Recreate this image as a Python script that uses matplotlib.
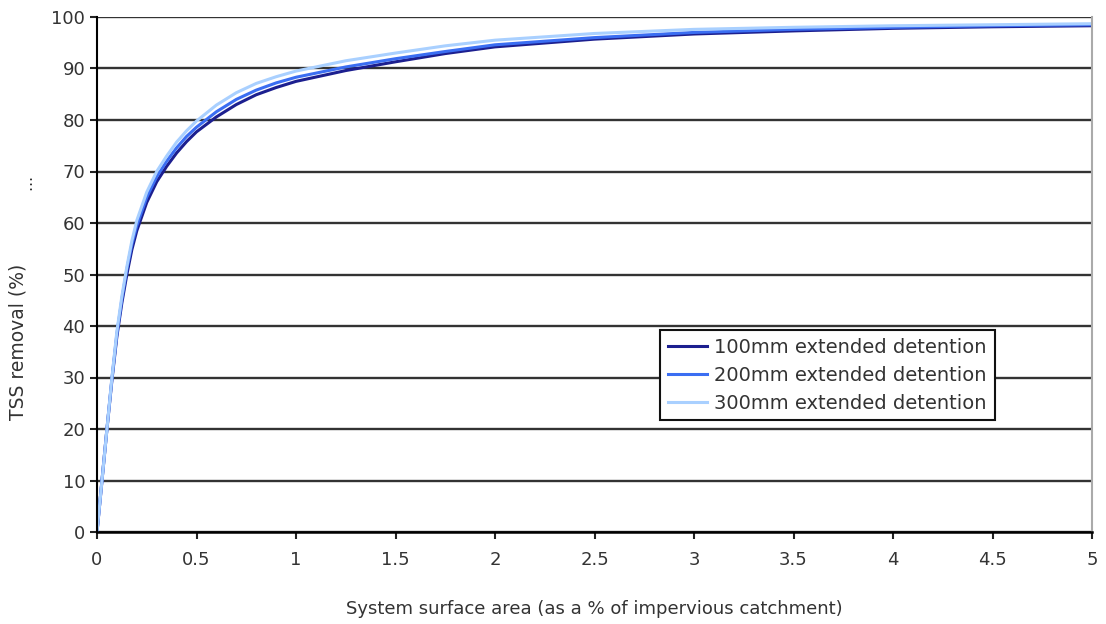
import matplotlib
matplotlib.use("Agg")
import matplotlib.pyplot as plt

x_area = [0, 0.02, 0.05, 0.075, 0.1, 0.125, 0.15, 0.175, 0.2, 0.25, 0.3, 0.35, 0.4, 0.45, 0.5,
          0.6, 0.7, 0.8, 0.9, 1.0, 1.25, 1.5, 1.75, 2.0, 2.5, 3.0, 3.5, 4.0, 4.5, 5.0]
tss_100 = [0, 8, 20, 29.5, 38, 44.5, 50, 54.8, 58.5, 64, 68, 71, 73.6, 75.8, 77.7,
           80.6, 83, 84.9, 86.3, 87.5, 89.6, 91.3, 92.9, 94.2, 95.7, 96.7, 97.3, 97.8, 98.1, 98.3]
tss_200 = [0, 8, 20, 29.8, 38.5, 45.2, 51, 55.8, 59.5, 65, 69, 72, 74.6, 76.8, 78.6,
           81.6, 84, 85.8, 87.2, 88.3, 90.3, 91.9, 93.3, 94.6, 96.0, 97.0, 97.6, 98.0, 98.3, 98.5]
tss_300 = [0, 8, 20, 30, 39, 45.8, 51.5, 56.5, 60.5, 66, 70, 73, 75.7, 77.9, 79.8,
           82.9, 85.3, 87.1, 88.4, 89.5, 91.5, 93.0, 94.4, 95.5, 96.8, 97.6, 98.0, 98.3, 98.5, 98.7]
labels = ["100mm extended detention", "200mm extended detention", "300mm extended detention"]
colors = ["#1c1f8f", "#3b6ef2", "#a9d0ff"]

plt.rcParams['font.family'] = ['DejaVu Sans']
fig = plt.figure(figsize=(11.06, 6.24), dpi=100)
ax = fig.add_axes([97/1106, 1 - 532/624, 995/1106, 515/624])

for ys, lab, c in zip([tss_100, tss_200, tss_300], labels, colors):
    ax.plot(x_area, ys, color=c, lw=2.2, label=lab, solid_joinstyle='round')

ax.set_xlim(0, 5)
ax.set_ylim(0, 100)
ax.set_xticks([0, 0.5, 1, 1.5, 2, 2.5, 3, 3.5, 4, 4.5, 5])
ax.set_xticklabels(["0", "0.5", "1", "1.5", "2", "2.5", "3", "3.5", "4", "4.5", "5"])
ax.set_yticks(range(0, 101, 10))
ax.yaxis.grid(True, color="#333333", lw=1.7)
ax.set_axisbelow(True)
ax.spines['top'].set_visible(False)
ax.spines['right'].set_color("#aaaaaa")
ax.spines['right'].set_linewidth(1.5)
ax.spines['left'].set_linewidth(1.5)
ax.spines['bottom'].set_linewidth(1.8)
ax.tick_params(axis='both', labelsize=13, colors="#222222", labelcolor="#333333", width=1.5, length=5)
ax.tick_params(axis='x', pad=9)

ax.set_xlabel("System surface area (as a % of impervious catchment)", fontsize=13, color="#333333", labelpad=22)
fig.text(18/1106, 1 - 342/624, "TSS removal (%)", rotation=90, ha='center', va='center', fontsize=13.5, color="#333333")
fig.text(27/1106, 1 - 182/624, "…", rotation=90, ha='center', va='center', fontsize=11, color="#333333")

leg = ax.legend(loc='lower left', bbox_to_anchor=(0.556, 0.198), fontsize=14, frameon=True,
                fancybox=False, edgecolor="#111111", framealpha=1, borderpad=0.4,
                handlelength=2.0, handletextpad=0.4, labelspacing=0.45, shadow=False)
leg.get_frame().set_linewidth(1.5)
for t in leg.get_texts():
    t.set_color("#333333")

fig.savefig("out.png", dpi=100)
